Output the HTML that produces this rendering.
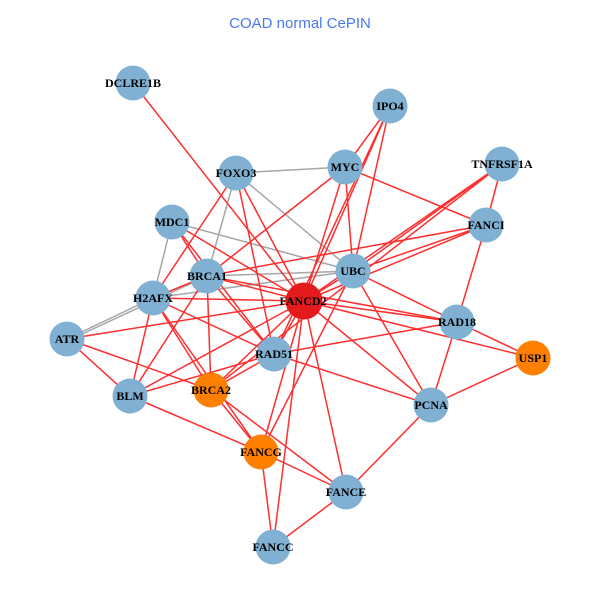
<!DOCTYPE html>
<html>
<head>
<meta charset="utf-8">
<style>
html,body{margin:0;padding:0;background:#fff;}
svg{display:block;}
.t{font-family:"Liberation Serif",serif;font-weight:bold;font-size:12px;fill:#000;text-anchor:middle;}
</style>
</head>
<body>
<svg width="600" height="600" viewBox="0 0 600 600" xmlns="http://www.w3.org/2000/svg">
<rect width="600" height="600" fill="#fff"/>
<text x="300" y="28" font-family="Liberation Sans, sans-serif" font-size="15" fill="#4a78f0" text-anchor="middle">COAD normal CePIN</text>
<g stroke="#a6a6a6" stroke-width="1.5" fill="none">
<line x1="236" y1="173" x2="345" y2="167"/>
<line x1="236" y1="173" x2="353" y2="271"/>
<line x1="236" y1="173" x2="207" y2="276"/>
<line x1="172" y1="222" x2="353" y2="271"/>
<line x1="172" y1="222" x2="153" y2="298"/>
<line x1="207" y1="276" x2="353" y2="271"/>
<line x1="153" y1="298" x2="353" y2="271"/>
<line x1="67" y1="339" x2="153" y2="298"/>
<line x1="67" y1="341" x2="207" y2="276"/>
</g>
<g stroke="#ff2e2e" stroke-width="1.5" fill="none">
<line x1="133" y1="83" x2="304" y2="301"/>
<line x1="390" y1="106" x2="345" y2="167"/>
<line x1="390" y1="106" x2="353" y2="271"/>
<line x1="390" y1="106" x2="304" y2="301"/>
<line x1="390" y1="106" x2="274" y2="354"/>
<line x1="345" y1="167" x2="207" y2="276"/>
<line x1="345" y1="167" x2="304" y2="301"/>
<line x1="345" y1="167" x2="353" y2="271"/>
<line x1="345" y1="167" x2="486" y2="225"/>
<line x1="502" y1="164" x2="486" y2="225"/>
<line x1="502" y1="164" x2="353" y2="271"/>
<line x1="502" y1="164" x2="304" y2="301"/>
<line x1="502" y1="164" x2="211" y2="390"/>
<line x1="486" y1="225" x2="353" y2="271"/>
<line x1="486" y1="225" x2="304" y2="301"/>
<line x1="486" y1="225" x2="457" y2="322"/>
<line x1="486" y1="225" x2="207" y2="276"/>
<line x1="236" y1="173" x2="153" y2="298"/>
<line x1="236" y1="173" x2="304" y2="301"/>
<line x1="236" y1="173" x2="274" y2="354"/>
<line x1="172" y1="222" x2="207" y2="276"/>
<line x1="172" y1="222" x2="304" y2="301"/>
<line x1="172" y1="222" x2="274" y2="354"/>
<line x1="207" y1="276" x2="153" y2="298"/>
<line x1="207" y1="276" x2="304" y2="301"/>
<line x1="207" y1="276" x2="211" y2="390"/>
<line x1="207" y1="276" x2="274" y2="354"/>
<line x1="207" y1="276" x2="130" y2="396"/>
<line x1="207" y1="276" x2="457" y2="322"/>
<line x1="153" y1="298" x2="304" y2="301"/>
<line x1="153" y1="298" x2="211" y2="390"/>
<line x1="153" y1="298" x2="274" y2="354"/>
<line x1="153" y1="298" x2="130" y2="396"/>
<line x1="153" y1="298" x2="261" y2="452"/>
<line x1="67" y1="339" x2="304" y2="301"/>
<line x1="67" y1="339" x2="130" y2="396"/>
<line x1="67" y1="339" x2="211" y2="390"/>
<line x1="130" y1="396" x2="304" y2="301"/>
<line x1="130" y1="396" x2="274" y2="354"/>
<line x1="130" y1="396" x2="261" y2="452"/>
<line x1="211" y1="390" x2="304" y2="301"/>
<line x1="211" y1="390" x2="274" y2="354"/>
<line x1="211" y1="390" x2="261" y2="452"/>
<line x1="211" y1="390" x2="346" y2="492"/>
<line x1="274" y1="354" x2="304" y2="301"/>
<line x1="274" y1="354" x2="431" y2="405"/>
<line x1="274" y1="354" x2="457" y2="322"/>
<line x1="261" y1="452" x2="304" y2="301"/>
<line x1="261" y1="452" x2="353" y2="271"/>
<line x1="261" y1="452" x2="346" y2="492"/>
<line x1="261" y1="452" x2="273" y2="547"/>
<line x1="273" y1="547" x2="304" y2="301"/>
<line x1="273" y1="547" x2="346" y2="492"/>
<line x1="346" y1="492" x2="304" y2="301"/>
<line x1="346" y1="492" x2="431" y2="405"/>
<line x1="431" y1="405" x2="304" y2="301"/>
<line x1="431" y1="405" x2="353" y2="271"/>
<line x1="431" y1="405" x2="457" y2="322"/>
<line x1="431" y1="405" x2="533" y2="358"/>
<line x1="457" y1="322" x2="533" y2="358"/>
<line x1="457" y1="322" x2="304" y2="301"/>
<line x1="457" y1="322" x2="353" y2="271"/>
<line x1="533" y1="358" x2="304" y2="301"/>
<line x1="353" y1="271" x2="304" y2="301"/>
</g>
<g>
<circle cx="133" cy="83" r="17.5" fill="#80b1d3"/>
<circle cx="390" cy="106" r="17.5" fill="#80b1d3"/>
<circle cx="236" cy="173" r="17.5" fill="#80b1d3"/>
<circle cx="345" cy="167" r="17.5" fill="#80b1d3"/>
<circle cx="502" cy="164" r="17.5" fill="#80b1d3"/>
<circle cx="172" cy="222" r="17.5" fill="#80b1d3"/>
<circle cx="486" cy="225" r="17.5" fill="#80b1d3"/>
<circle cx="207" cy="276" r="17.5" fill="#80b1d3"/>
<circle cx="353" cy="271" r="17.5" fill="#80b1d3"/>
<circle cx="153" cy="298" r="17.5" fill="#80b1d3"/>
<circle cx="304" cy="301" r="18.5" fill="#e41a1c"/>
<circle cx="457" cy="322" r="17.5" fill="#80b1d3"/>
<circle cx="67" cy="339" r="17.5" fill="#80b1d3"/>
<circle cx="274" cy="354" r="17.5" fill="#80b1d3"/>
<circle cx="533" cy="358" r="17.5" fill="#ff7f00"/>
<circle cx="130" cy="396" r="17.5" fill="#80b1d3"/>
<circle cx="211" cy="390" r="17.5" fill="#ff7f00"/>
<circle cx="431" cy="405" r="17.5" fill="#80b1d3"/>
<circle cx="261" cy="452" r="17.5" fill="#ff7f00"/>
<circle cx="346" cy="492" r="17.5" fill="#80b1d3"/>
<circle cx="273" cy="547" r="17.5" fill="#80b1d3"/>
</g>
<g>
<text class="t" x="133" y="87">DCLRE1B</text>
<text class="t" x="390" y="110">IPO4</text>
<text class="t" x="236" y="177">FOXO3</text>
<text class="t" x="345" y="171">MYC</text>
<text class="t" x="502" y="168">TNFRSF1A</text>
<text class="t" x="172" y="226">MDC1</text>
<text class="t" x="486" y="229">FANCI</text>
<text class="t" x="207" y="280">BRCA1</text>
<text class="t" x="353" y="275">UBC</text>
<text class="t" x="153" y="302">H2AFX</text>
<text class="t" x="303" y="305">FANCD2</text>
<text class="t" x="457" y="326">RAD18</text>
<text class="t" x="67" y="343">ATR</text>
<text class="t" x="274" y="358">RAD51</text>
<text class="t" x="533" y="362">USP1</text>
<text class="t" x="130" y="400">BLM</text>
<text class="t" x="211" y="394">BRCA2</text>
<text class="t" x="431" y="409">PCNA</text>
<text class="t" x="261" y="456">FANCG</text>
<text class="t" x="346" y="496">FANCE</text>
<text class="t" x="273" y="551">FANCC</text>
</g>
</svg>
</body>
</html>
